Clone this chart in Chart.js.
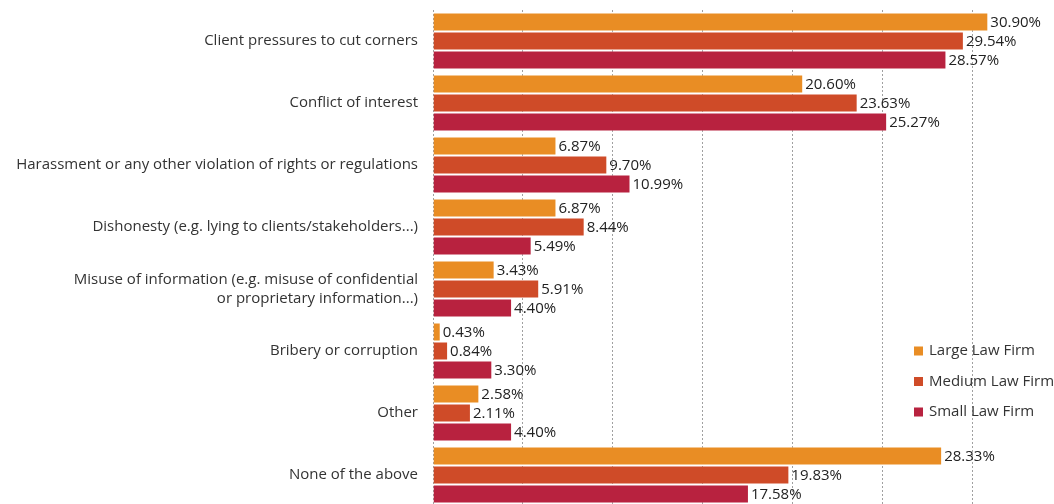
<!DOCTYPE html>
<html>
<head>
<meta charset="utf-8">
<script src="https://cdn.jsdelivr.net/npm/chart.js@4"></script>
<style>
  html, body { margin: 0; padding: 0; background: #fff; overflow: hidden; }
  #wrap { width: 1080px; height: 510px; }
</style>
</head>
<body>
<div id="wrap"><canvas id="ethicsChart" width="1080" height="510"></canvas></div>
<script>
// ethics-issues-chart

const categories = [
  'Client pressures to cut corners',
  'Conflict of interest',
  'Harassment or any other violation of rights or regulations',
  'Dishonesty (e.g. lying to clients/stakeholders...)',
  ['Misuse of information (e.g. misuse of confidential', 'or proprietary information...)'],
  'Bribery or corruption',
  'Other',
  'None of the above'
];

const largeFirm = [30.90, 20.60, 6.87, 6.87, 3.43, 0.43, 2.58, 28.33];
const mediumFirm = [29.54, 23.63, 9.70, 8.44, 5.91, 0.84, 2.11, 19.83];
const smallFirm = [28.57, 25.27, 10.99, 5.49, 4.40, 3.30, 4.40, 17.58];

const seriesNames = ['Large Law Firm', 'Medium Law Firm', 'Small Law Firm'];
const seriesColors = ['#E98D24', '#CF4B28', '#B8223F'];

const FONT = '"Open Sans", "Liberation Sans", sans-serif';
const FONT_SIZE = 15;

// value labels at the end of each bar
const barValueLabels = {
  id: 'barValueLabels',
  afterDatasetsDraw(chart) {
    const ctx = chart.ctx;
    ctx.save();
    ctx.font = FONT_SIZE + 'px ' + FONT;
    ctx.fillStyle = '#222';
    ctx.textBaseline = 'middle';
    ctx.textAlign = 'left';
    chart.data.datasets.forEach((ds, i) => {
      chart.getDatasetMeta(i).data.forEach((bar, j) => {
        ctx.fillText(ds.data[j].toFixed(2) + '%', bar.x + 2, bar.y + 1);
      });
    });
    ctx.restore();
  }
};

// legend sitting inside the plot, lower right
const innerLegend = {
  id: 'innerLegend',
  afterDraw(chart) {
    const ctx = chart.ctx;
    ctx.save();
    ctx.font = FONT_SIZE + 'px ' + FONT;
    ctx.textBaseline = 'middle';
    chart.data.datasets.forEach((ds, i) => {
      const y = 351 + i * 30.5;
      ctx.fillStyle = ds.backgroundColor;
      ctx.fillRect(914, y - 4.5, 9, 9);
      ctx.fillStyle = '#333';
      ctx.fillText(ds.label, 929, y);
    });
    ctx.restore();
  }
};

const ctx = document.getElementById('ethicsChart').getContext('2d');

new Chart(ctx, {
  type: 'bar',
  data: {
    labels: categories,
    datasets: [largeFirm, mediumFirm, smallFirm].map((values, i) => ({
      label: seriesNames[i],
      data: values,
      backgroundColor: seriesColors[i],
      borderColor: 'rgba(255,255,255,0.35)',
      borderWidth: 1,
      categoryPercentage: 0.92,
      barPercentage: 1
    }))
  },
  options: {
    indexAxis: 'y',
    responsive: false,
    animation: false,
    layout: { padding: { top: 10, bottom: 4, left: 0, right: 18 } },
    plugins: {
      legend: { display: false },
      tooltip: { enabled: false }
    },
    scales: {
      x: {
        min: 0,
        max: 35,
        ticks: { display: false, stepSize: 5 },
        grid: { color: '#a0a0a0', lineWidth: 1, drawTicks: false },
        border: { display: false, dash: [2, 2] },
        afterFit(scale) {
          scale.height = 0;
          scale.paddingLeft = scale.paddingRight = 0;
        }
      },
      y: {
        grid: { display: false, drawTicks: false },
        border: { display: false },
        ticks: {
          color: '#333',
          padding: 15,
          font: { family: FONT, size: FONT_SIZE, lineHeight: 1.3 }
        },
        afterFit(scale) {
          scale.width = 433;
          scale.paddingTop = scale.paddingBottom = 0;
        }
      }
    }
  },
  plugins: [barValueLabels, innerLegend]
});
</script>
</body>
</html>
